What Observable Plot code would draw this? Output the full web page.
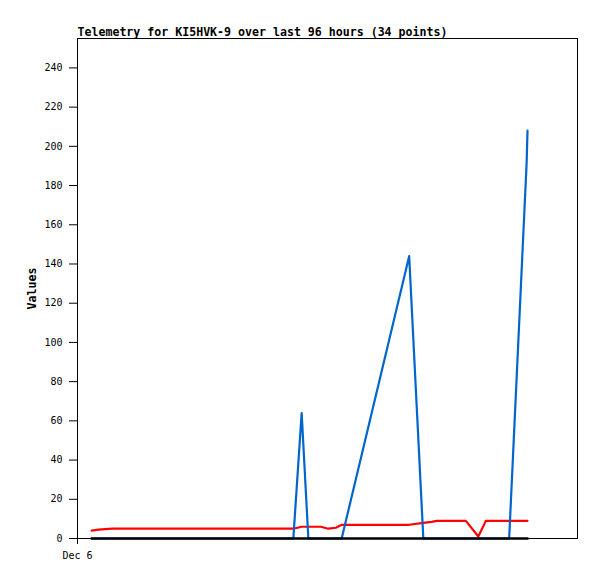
<!DOCTYPE html>
<html>
<head>
<meta charset="utf-8">
<script src="https://cdn.jsdelivr.net/npm/d3@7"></script>
<script src="https://cdn.jsdelivr.net/npm/@observablehq/plot@0.6"></script>
<style>
  body { margin: 0; background: #fff; }
  svg { font-family: "DejaVu Sans Mono", monospace; }
</style>
</head>
<body>
<div id="chart"></div>
<script>
const titleText = "Telemetry for KI5HVK-9 over last 96 hours (34 points)";
const yLabel = "Values";
const xTickLabel = "Dec 6";
const xTickDate = "2023-12-06T00:00";
const xDomain = ["2023-12-06T00:00", "2023-12-06T10:00"];
const yTicks = [0, 20, 40, 60, 80, 100, 120, 140, 160, 180, 200, 220, 240];

const times = [
  "2023-12-06T00:17", "2023-12-06T00:25", "2023-12-06T00:42", "2023-12-06T01:04",
  "2023-12-06T01:28", "2023-12-06T01:40", "2023-12-06T01:58", "2023-12-06T02:28",
  "2023-12-06T02:58", "2023-12-06T03:10", "2023-12-06T03:28", "2023-12-06T03:45",
  "2023-12-06T03:58", "2023-12-06T04:19", "2023-12-06T04:29", "2023-12-06T04:37",
  "2023-12-06T04:52", "2023-12-06T05:01", "2023-12-06T05:10", "2023-12-06T05:17",
  "2023-12-06T06:38", "2023-12-06T06:55", "2023-12-06T07:05", "2023-12-06T07:11",
  "2023-12-06T07:28", "2023-12-06T07:34", "2023-12-06T07:46", "2023-12-06T08:01",
  "2023-12-06T08:10", "2023-12-06T08:22", "2023-12-06T08:30", "2023-12-06T08:38",
  "2023-12-06T08:59", "2023-12-06T09:00"
];
const redSeries = [
  4, 4.5, 5, 5,
  5, 5, 5, 5,
  5, 5, 5, 5,
  5, 5, 6, 6,
  6, 5, 5.5, 7,
  7, 8, 8.5, 9,
  9, 9, 9, 1,
  9, 9, 9, 9,
  9, 9
];
const blueSeries = [
  0, 0, 0, 0,
  0, 0, 0, 0,
  0, 0, 0, 0,
  0, 0, 64, 0,
  0, 0, 0, 0,
  144, 0, 0, 0,
  0, 0, 0, 0,
  0, 0, 0, 0,
  192, 208
];
const blackSeries = times.map(() => 0);

const parse = (s) => new Date(s);
const rows = (vals) => times.map((t, i) => ({t: parse(t), v: vals[i]}));

const chart = Plot.plot({
  width: 597,
  height: 579,
  marginLeft: 77,
  marginRight: 20,
  marginTop: 38,
  marginBottom: 41,
  style: {fontFamily: "'DejaVu Sans Mono', monospace", fontSize: "10px", color: "#000", background: "#fff"},
  x: {
    type: "time",
    domain: xDomain.map(parse),
    ticks: [parse(xTickDate)],
    tickFormat: () => xTickLabel,
    tickSize: 6,
    tickPadding: 7,
    label: null
  },
  y: {
    domain: [0, 255],
    ticks: yTicks,
    tickSize: 8,
    tickPadding: 7,
    label: null
  },
  marks: [
    Plot.frame({stroke: "#000", strokeWidth: 1, shapeRendering: "crispEdges"}),
    Plot.line(rows(redSeries), {x: "t", y: "v", stroke: "#ff0000", strokeWidth: 2.2}),
    Plot.line(rows(blueSeries), {x: "t", y: "v", stroke: "#0066cc", strokeWidth: 2.2}),
    Plot.line(rows(blackSeries), {x: "t", y: "v", stroke: "#000", strokeWidth: 2.5}),
    Plot.text([titleText], {frameAnchor: "top-left", dy: -3, lineAnchor: "bottom", textAnchor: "start", fontSize: 11.6, fontWeight: "bold"}),
    Plot.text([yLabel], {frameAnchor: "left", dx: -45, rotate: -90, textAnchor: "middle", fontSize: 11.6, fontWeight: "bold"})
  ]
});
document.getElementById("chart").appendChild(chart);
</script>
</body>
</html>
